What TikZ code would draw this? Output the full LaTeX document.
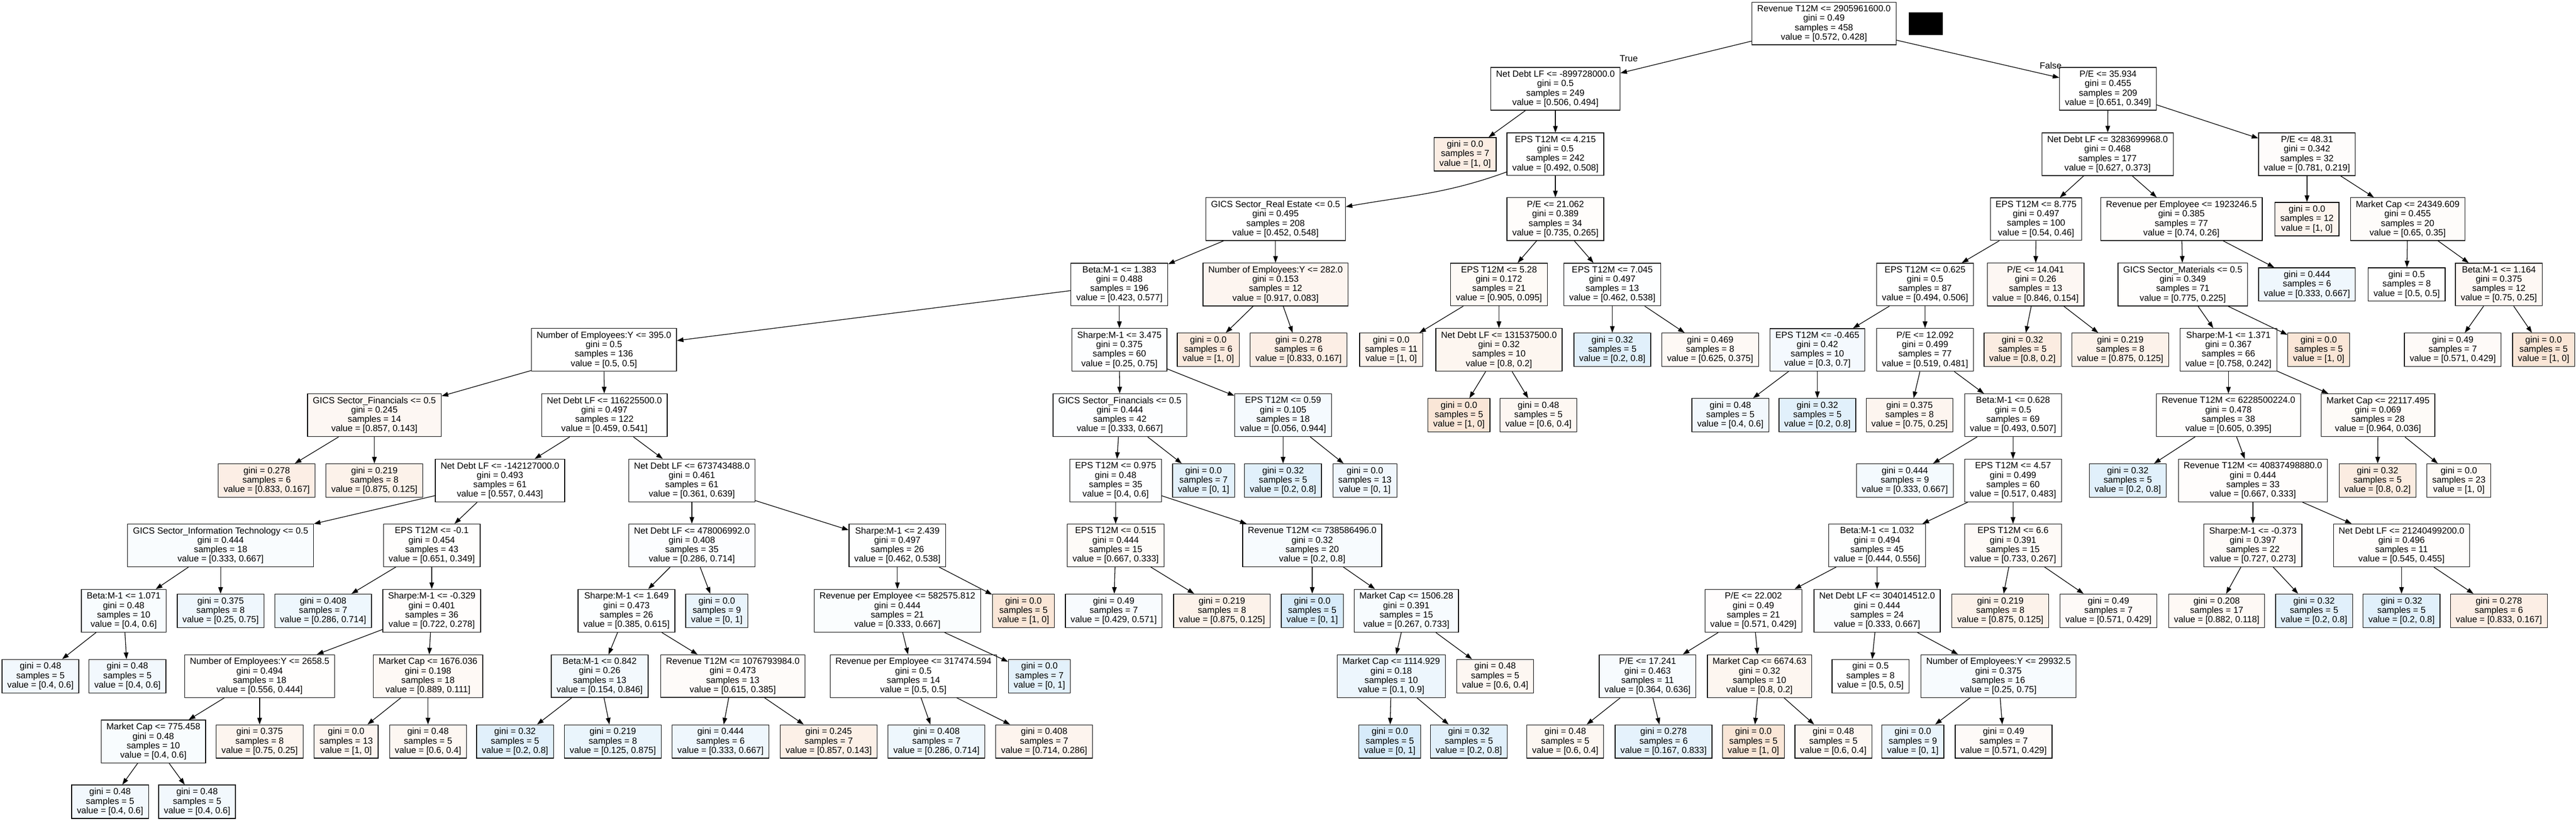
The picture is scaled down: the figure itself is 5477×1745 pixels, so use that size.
\documentclass[tikz,border=0pt]{standalone}
\usepackage{fontspec}
\setmainfont{Liberation Sans}
\usetikzlibrary{arrows.meta}
\definecolor{orng}{HTML}{E58139}
\definecolor{blu}{HTML}{399DE5}
\begin{document}
\begin{tikzpicture}[x=0.01cm, y=-0.01cm, line width=0.4pt,
    box/.style = {draw, fill=white, rectangle, align=center, inner xsep=3.2pt, inner ysep=1.9pt, font=\fontsize{5.4pt}{5.69pt}\selectfont},
    cls0/.style = {fill=orng!#1!white},
    cls1/.style = {fill=blu!#1!white},
    lbl/.style = {font=\fontsize{5.4pt}{5.69pt}\selectfont, inner sep=0pt},
    arr/.style = {-{Triangle[length=4pt, width=2.8pt]}}]
  \useasboundingbox (0,0) rectangle (5477,1745);
  \fill[white] (0,0) rectangle (5477,1745);

  % row 0 and 1
  \node[box] (0) at (3878,50) {Revenue T12M <= 2905961600.0\\gini = 0.49\\samples = 458\\value = [0.572, 0.428]};
  \fill (4058,26) rectangle (4131,75);
  \node[box] (1) at (3307,189) {Net Debt LF <= -899728000.0\\gini = 0.5\\samples = 249\\value = [0.506, 0.494]};
  \node[box] (74) at (4482,189) {P/E <= 35.934\\gini = 0.455\\samples = 209\\value = [0.651, 0.349]};
  \node[lbl] (true) at (3463,125) {True};
  \node[lbl] (false) at (4360,139) {False};

  % row 2
  \node[box, cls0=14.3] (2) at (3115,328) {gini = 0.0\\samples = 7\\value = [1, 0]};
  \node[box] (3) at (3307,328) {EPS T12M <= 4.215\\gini = 0.5\\samples = 242\\value = [0.492, 0.508]};
  \node[box] (75) at (4481,328) {Net Debt LF <= 3283699968.0\\gini = 0.468\\samples = 177\\value = [0.627, 0.373]};
  \node[box, cls0=2.2] (122) at (4905,328) {P/E <= 48.31\\gini = 0.342\\samples = 32\\value = [0.781, 0.219]};

  % row 3
  \node[box] (4) at (2712,466) {GICS Sector\_Real Estate <= 0.5\\gini = 0.495\\samples = 208\\value = [0.452, 0.548]};
  \node[box, cls0=1.9] (65) at (3307,466) {P/E <= 21.062\\gini = 0.389\\samples = 34\\value = [0.735, 0.265]};
  \node[box] (76) at (4329,466) {EPS T12M <= 8.775\\gini = 0.497\\samples = 100\\value = [0.54, 0.46]};
  \node[box, cls0=0.8] (105) at (4638,466) {Revenue per Employee <= 1923246.5\\gini = 0.385\\samples = 77\\value = [0.74, 0.26]};
  \node[box, cls0=8.3] (123) at (4905,466) {gini = 0.0\\samples = 12\\value = [1, 0]};
  \node[box, cls0=2.3] (124) at (5119,466) {Market Cap <= 24349.609\\gini = 0.455\\samples = 20\\value = [0.65, 0.35]};

  % row 4
  \node[box] (5) at (2380,605) {Beta:M-1 <= 1.383\\gini = 0.488\\samples = 196\\value = [0.423, 0.577]};
  \node[box, cls0=7.6] (62) at (2712,605) {Number of Employees:Y <= 282.0\\gini = 0.153\\samples = 12\\value = [0.917, 0.083]};
  \node[box, cls0=4.3] (66) at (3187,605) {EPS T12M <= 5.28\\gini = 0.172\\samples = 21\\value = [0.905, 0.095]};
  \node[box, cls1=1.1] (71) at (3428,605) {EPS T12M <= 7.045\\gini = 0.497\\samples = 13\\value = [0.462, 0.538]};
  \node[box] (77) at (4093,605) {EPS T12M <= 0.625\\gini = 0.5\\samples = 87\\value = [0.494, 0.506]};
  \node[box, cls0=6.3] (102) at (4328,605) {P/E <= 14.041\\gini = 0.26\\samples = 13\\value = [0.846, 0.154]};
  \node[box, cls0=1] (106) at (4641,605) {GICS Sector\_Materials <= 0.5\\gini = 0.349\\samples = 71\\value = [0.775, 0.225]};
  \node[box, cls1=8.3] (121) at (4905,605) {gini = 0.444\\samples = 6\\value = [0.333, 0.667]};
  \node[box] (125) at (5117,605) {gini = 0.5\\samples = 8\\value = [0.5, 0.5]};
  \node[box, cls0=5.6] (126) at (5313,605) {Beta:M-1 <= 1.164\\gini = 0.375\\samples = 12\\value = [0.75, 0.25]};

  % row 5
  \node[box] (6) at (1284,744) {Number of Employees:Y <= 395.0\\gini = 0.5\\samples = 136\\value = [0.5, 0.5]};
  \node[box, cls1=1.1] (45) at (2380,744) {Sharpe:M-1 <= 3.475\\gini = 0.375\\samples = 60\\value = [0.25, 0.75]};
  \node[box, cls0=16.7] (63) at (2569,744) {gini = 0.0\\samples = 6\\value = [1, 0]};
  \node[box, cls0=13.3] (64) at (2761,744) {gini = 0.278\\samples = 6\\value = [0.833, 0.167]};
  \node[box, cls0=9.1] (67) at (2958,744) {gini = 0.0\\samples = 11\\value = [1, 0]};
  \node[box, cls0=7.5] (68) at (3187,744) {Net Debt LF <= 131537500.0\\gini = 0.32\\samples = 10\\value = [0.8, 0.2]};
  \node[box, cls1=15] (72) at (3428,744) {gini = 0.32\\samples = 5\\value = [0.2, 0.8]};
  \node[box, cls0=5] (73) at (3636,744) {gini = 0.469\\samples = 8\\value = [0.625, 0.375]};
  \node[box, cls1=5.7] (78) at (3864,744) {EPS T12M <= -0.465\\gini = 0.42\\samples = 10\\value = [0.3, 0.7]};
  \node[box] (81) at (4093,744) {P/E <= 12.092\\gini = 0.499\\samples = 77\\value = [0.519, 0.481]};
  \node[box, cls0=15] (103) at (4300,744) {gini = 0.32\\samples = 5\\value = [0.8, 0.2]};
  \node[box, cls0=10.7] (104) at (4508,744) {gini = 0.219\\samples = 8\\value = [0.875, 0.125]};
  \node[box, cls0=1] (107) at (4738,744) {Sharpe:M-1 <= 1.371\\gini = 0.367\\samples = 66\\value = [0.758, 0.242]};
  \node[box, cls0=20] (120) at (4930,744) {gini = 0.0\\samples = 5\\value = [1, 0]};
  \node[box, cls0=3.6] (127) at (5215,744) {gini = 0.49\\samples = 7\\value = [0.571, 0.429]};
  \node[box, cls0=20] (128) at (5408,744) {gini = 0.0\\samples = 5\\value = [1, 0]};

  % row 6
  \node[box, cls0=6] (7) at (796,883) {GICS Sector\_Financials <= 0.5\\gini = 0.245\\samples = 14\\value = [0.857, 0.143]};
  \node[box] (10) at (1285,883) {Net Debt LF <= 116225500.0\\gini = 0.497\\samples = 122\\value = [0.459, 0.541]};
  \node[box, cls1=1.2] (46) at (2381,883) {GICS Sector\_Financials <= 0.5\\gini = 0.444\\samples = 42\\value = [0.333, 0.667]};
  \node[box, cls1=5.2] (59) at (2728,883) {EPS T12M <= 0.59\\gini = 0.105\\samples = 18\\value = [0.056, 0.944]};
  \node[box, cls0=20] (69) at (3102,883) {gini = 0.0\\samples = 5\\value = [1, 0]};
  \node[box, cls0=6.7] (70) at (3271,883) {gini = 0.48\\samples = 5\\value = [0.6, 0.4]};
  \node[box, cls1=6.7] (79) at (3679,883) {gini = 0.48\\samples = 5\\value = [0.4, 0.6]};
  \node[box, cls1=15] (80) at (3864,883) {gini = 0.32\\samples = 5\\value = [0.2, 0.8]};
  \node[box, cls0=8.3] (82) at (4060,883) {gini = 0.375\\samples = 8\\value = [0.75, 0.25]};
  \node[box] (83) at (4280,883) {Beta:M-1 <= 0.628\\gini = 0.5\\samples = 69\\value = [0.493, 0.507]};
  \node[box, cls0=0.9] (108) at (4738,883) {Revenue T12M <= 6228500224.0\\gini = 0.478\\samples = 38\\value = [0.605, 0.395]};
  \node[box, cls0=3.4] (117) at (5056,883) {Market Cap <= 22117.495\\gini = 0.069\\samples = 28\\value = [0.964, 0.036]};

  % row 7
  \node[box, cls0=13.3] (8) at (567,1022) {gini = 0.278\\samples = 6\\value = [0.833, 0.167]};
  \node[box, cls0=10.7] (9) at (796,1022) {gini = 0.219\\samples = 8\\value = [0.875, 0.125]};
  \node[box] (11) at (1063,1022) {Net Debt LF <= -142127000.0\\gini = 0.493\\samples = 61\\value = [0.557, 0.443]};
  \node[box, cls1=0.7] (28) at (1471,1022) {Net Debt LF <= 673743488.0\\gini = 0.461\\samples = 61\\value = [0.361, 0.639]};
  \node[box, cls1=1] (47) at (2372,1022) {EPS T12M <= 0.975\\gini = 0.48\\samples = 35\\value = [0.4, 0.6]};
  \node[box, cls1=14.3] (58) at (2559,1022) {gini = 0.0\\samples = 7\\value = [0, 1]};
  \node[box, cls1=15] (60) at (2728,1022) {gini = 0.32\\samples = 5\\value = [0.2, 0.8]};
  \node[box, cls1=7.7] (61) at (2902,1022) {gini = 0.0\\samples = 13\\value = [0, 1]};
  \node[box, cls1=5.6] (84) at (4050,1022) {gini = 0.444\\samples = 9\\value = [0.333, 0.667]};
  \node[box] (85) at (4280,1022) {EPS T12M <= 4.57\\gini = 0.499\\samples = 60\\value = [0.517, 0.483]};
  \node[box, cls1=15] (109) at (4524,1022) {gini = 0.32\\samples = 5\\value = [0.2, 0.8]};
  \node[box, cls0=1.5] (110) at (4790,1022) {Revenue T12M <= 40837498880.0\\gini = 0.444\\samples = 33\\value = [0.667, 0.333]};
  \node[box, cls0=15] (118) at (5055,1022) {gini = 0.32\\samples = 5\\value = [0.8, 0.2]};
  \node[box, cls0=4.3] (119) at (5228,1022) {gini = 0.0\\samples = 23\\value = [1, 0]};

  % row 8
  \node[box, cls1=2.8] (12) at (469,1160) {GICS Sector\_Information Technology <= 0.5\\gini = 0.444\\samples = 18\\value = [0.333, 0.667]};
  \node[box, cls0=1.1] (17) at (918,1160) {EPS T12M <= -0.1\\gini = 0.454\\samples = 43\\value = [0.651, 0.349]};
  \node[box, cls1=1.7] (29) at (1471,1160) {Net Debt LF <= 478006992.0\\gini = 0.408\\samples = 35\\value = [0.286, 0.714]};
  \node[box, cls1=0.5] (38) at (1908,1160) {Sharpe:M-1 <= 2.439\\gini = 0.497\\samples = 26\\value = [0.462, 0.538]};
  \node[box, cls0=3.3] (48) at (2372,1160) {EPS T12M <= 0.515\\gini = 0.444\\samples = 15\\value = [0.667, 0.333]};
  \node[box, cls1=3.8] (51) at (2790,1160) {Revenue T12M <= 738586496.0\\gini = 0.32\\samples = 20\\value = [0.2, 0.8]};
  \node[box, cls1=0.4] (86) at (3991,1160) {Beta:M-1 <= 1.032\\gini = 0.494\\samples = 45\\value = [0.444, 0.556]};
  \node[box, cls0=4.2] (99) at (4280,1160) {EPS T12M <= 6.6\\gini = 0.391\\samples = 15\\value = [0.733, 0.267]};
  \node[box, cls0=2.8] (111) at (4790,1160) {Sharpe:M-1 <= -0.373\\gini = 0.397\\samples = 22\\value = [0.727, 0.273]};
  \node[box, cls0=1.5] (114) at (5106,1160) {Net Debt LF <= 21240499200.0\\gini = 0.496\\samples = 11\\value = [0.545, 0.455]};

  % row 9
  \node[box, cls1=3.3] (13) at (263,1299) {Beta:M-1 <= 1.071\\gini = 0.48\\samples = 10\\value = [0.4, 0.6]};
  \node[box, cls1=8.3] (16) at (469,1299) {gini = 0.375\\samples = 8\\value = [0.25, 0.75]};
  \node[box, cls1=8.6] (18) at (687,1299) {gini = 0.408\\samples = 7\\value = [0.286, 0.714]};
  \node[box, cls0=1.7] (19) at (918,1299) {Sharpe:M-1 <= -0.329\\gini = 0.401\\samples = 36\\value = [0.722, 0.278]};
  \node[box, cls1=1.4] (30) at (1332,1299) {Sharpe:M-1 <= 1.649\\gini = 0.473\\samples = 26\\value = [0.385, 0.615]};
  \node[box, cls1=11.1] (37) at (1524,1299) {gini = 0.0\\samples = 9\\value = [0, 1]};
  \node[box, cls1=2.4] (39) at (1908,1299) {Revenue per Employee <= 582575.812\\gini = 0.444\\samples = 21\\value = [0.333, 0.667]};
  \node[box, cls0=20] (44) at (2176,1299) {gini = 0.0\\samples = 5\\value = [1, 0]};
  \node[box, cls1=3.6] (49) at (2368,1299) {gini = 0.49\\samples = 7\\value = [0.429, 0.571]};
  \node[box, cls0=10.7] (50) at (2598,1299) {gini = 0.219\\samples = 8\\value = [0.875, 0.125]};
  \node[box, cls1=20] (52) at (2790,1299) {gini = 0.0\\samples = 5\\value = [0, 1]};
  \node[box, cls1=4.2] (53) at (2990,1299) {Market Cap <= 1506.28\\gini = 0.391\\samples = 15\\value = [0.267, 0.733]};
  \node[box, cls0=1.2] (87) at (3728,1299) {P/E <= 22.002\\gini = 0.49\\samples = 21\\value = [0.571, 0.429]};
  \node[box, cls1=2.1] (94) at (3991,1299) {Net Debt LF <= 304014512.0\\gini = 0.444\\samples = 24\\value = [0.333, 0.667]};
  \node[box, cls0=10.7] (100) at (4253,1299) {gini = 0.219\\samples = 8\\value = [0.875, 0.125]};
  \node[box, cls0=3.6] (101) at (4483,1299) {gini = 0.49\\samples = 7\\value = [0.571, 0.429]};
  \node[box, cls0=5.1] (112) at (4713,1299) {gini = 0.208\\samples = 17\\value = [0.882, 0.118]};
  \node[box, cls1=15] (113) at (4920,1299) {gini = 0.32\\samples = 5\\value = [0.2, 0.8]};
  \node[box, cls1=15] (115) at (5106,1299) {gini = 0.32\\samples = 5\\value = [0.2, 0.8]};
  \node[box, cls0=13.3] (116) at (5313,1299) {gini = 0.278\\samples = 6\\value = [0.833, 0.167]};

  % row 10
  \node[box, cls1=6.7] (14) at (86,1438) {gini = 0.48\\samples = 5\\value = [0.4, 0.6]};
  \node[box, cls1=6.7] (15) at (271,1438) {gini = 0.48\\samples = 5\\value = [0.4, 0.6]};
  \node[box, cls0=1.1] (20) at (552,1438) {Number of Employees:Y <= 2658.5\\gini = 0.494\\samples = 18\\value = [0.556, 0.444]};
  \node[box, cls0=4.9] (25) at (910,1438) {Market Cap <= 1676.036\\gini = 0.198\\samples = 18\\value = [0.889, 0.111]};
  \node[box, cls1=6.3] (31) at (1275,1438) {Beta:M-1 <= 0.842\\gini = 0.26\\samples = 13\\value = [0.154, 0.846]};
  \node[box, cls0=2.9] (34) at (1558,1438) {Revenue T12M <= 1076793984.0\\gini = 0.473\\samples = 13\\value = [0.615, 0.385]};
  \node[box] (40) at (1942,1438) {Revenue per Employee <= 317474.594\\gini = 0.5\\samples = 14\\value = [0.5, 0.5]};
  \node[box, cls1=14.3] (43) at (2210,1438) {gini = 0.0\\samples = 7\\value = [0, 1]};
  \node[box, cls1=8.9] (54) at (2958,1438) {Market Cap <= 1114.929\\gini = 0.18\\samples = 10\\value = [0.1, 0.9]};
  \node[box, cls0=6.7] (57) at (3179,1438) {gini = 0.48\\samples = 5\\value = [0.6, 0.4]};
  \node[box, cls1=3.9] (88) at (3503,1438) {P/E <= 17.241\\gini = 0.463\\samples = 11\\value = [0.364, 0.636]};
  \node[box, cls0=7.5] (91) at (3741,1438) {Market Cap <= 6674.63\\gini = 0.32\\samples = 10\\value = [0.8, 0.2]};
  \node[box] (95) at (3977,1438) {gini = 0.5\\samples = 8\\value = [0.5, 0.5]};
  \node[box, cls1=4.2] (96) at (4249,1438) {Number of Employees:Y <= 29932.5\\gini = 0.375\\samples = 16\\value = [0.25, 0.75]};

  % row 11
  \node[box, cls1=3.3] (21) at (326,1577) {Market Cap <= 775.458\\gini = 0.48\\samples = 10\\value = [0.4, 0.6]};
  \node[box, cls0=8.3] (24) at (552,1577) {gini = 0.375\\samples = 8\\value = [0.75, 0.25]};
  \node[box, cls0=7.7] (26) at (736,1577) {gini = 0.0\\samples = 13\\value = [1, 0]};
  \node[box, cls0=6.7] (27) at (910,1577) {gini = 0.48\\samples = 5\\value = [0.6, 0.4]};
  \node[box, cls1=15] (32) at (1095,1577) {gini = 0.32\\samples = 5\\value = [0.2, 0.8]};
  \node[box, cls1=10.7] (33) at (1303,1577) {gini = 0.219\\samples = 8\\value = [0.125, 0.875]};
  \node[box, cls1=8.3] (35) at (1532,1577) {gini = 0.444\\samples = 6\\value = [0.333, 0.667]};
  \node[box, cls0=11.9] (36) at (1762,1577) {gini = 0.245\\samples = 7\\value = [0.857, 0.143]};
  \node[box, cls1=8.6] (41) at (1991,1577) {gini = 0.408\\samples = 7\\value = [0.286, 0.714]};
  \node[box, cls0=8.6] (42) at (2220,1577) {gini = 0.408\\samples = 7\\value = [0.714, 0.286]};
  \node[box, cls1=20] (55) at (2955,1577) {gini = 0.0\\samples = 5\\value = [0, 1]};
  \node[box, cls1=15] (56) at (3123,1577) {gini = 0.32\\samples = 5\\value = [0.2, 0.8]};
  \node[box, cls0=6.7] (89) at (3328,1577) {gini = 0.48\\samples = 5\\value = [0.6, 0.4]};
  \node[box, cls1=13.3] (90) at (3537,1577) {gini = 0.278\\samples = 6\\value = [0.167, 0.833]};
  \node[box, cls0=20] (92) at (3728,1577) {gini = 0.0\\samples = 5\\value = [1, 0]};
  \node[box, cls0=6.7] (93) at (3898,1577) {gini = 0.48\\samples = 5\\value = [0.6, 0.4]};
  \node[box, cls1=11.1] (97) at (4067,1577) {gini = 0.0\\samples = 9\\value = [0, 1]};
  \node[box, cls0=3.6] (98) at (4260,1577) {gini = 0.49\\samples = 7\\value = [0.571, 0.429]};

  % row 12
  \node[box, cls1=6.7] (22) at (234,1705) {gini = 0.48\\samples = 5\\value = [0.4, 0.6]};
  \node[box, cls1=6.7] (23) at (419,1705) {gini = 0.48\\samples = 5\\value = [0.4, 0.6]};

  % edges
  \draw[arr] (0) -- (1); \draw[arr] (0) -- (74);
  \draw[arr] (1) -- (2); \draw[arr] (1) -- (3);
  \draw[arr] (3) to[out=200, in=10] (4); \draw[arr] (3) -- (65);
  \draw[arr] (4) -- (5); \draw[arr] (4) -- (62);
  \draw[arr] (5) -- (6); \draw[arr] (5) -- (45);
  \draw[arr] (6) -- (7); \draw[arr] (6) -- (10);
  \draw[arr] (7) -- (8); \draw[arr] (7) -- (9);
  \draw[arr] (10) -- (11); \draw[arr] (10) -- (28);
  \draw[arr] (11) -- (12); \draw[arr] (11) -- (17);
  \draw[arr] (12) -- (13); \draw[arr] (12) -- (16);
  \draw[arr] (13) -- (14); \draw[arr] (13) -- (15);
  \draw[arr] (17) -- (18); \draw[arr] (17) -- (19);
  \draw[arr] (19) -- (20); \draw[arr] (19) -- (25);
  \draw[arr] (20) -- (21); \draw[arr] (20) -- (24);
  \draw[arr] (21) -- (22); \draw[arr] (21) -- (23);
  \draw[arr] (25) -- (26); \draw[arr] (25) -- (27);
  \draw[arr] (28) -- (29); \draw[arr] (28) -- (38);
  \draw[arr] (29) -- (30); \draw[arr] (29) -- (37);
  \draw[arr] (30) -- (31); \draw[arr] (30) -- (34);
  \draw[arr] (31) -- (32); \draw[arr] (31) -- (33);
  \draw[arr] (34) -- (35); \draw[arr] (34) -- (36);
  \draw[arr] (38) -- (39); \draw[arr] (38) -- (44);
  \draw[arr] (39) -- (40); \draw[arr] (39) -- (43);
  \draw[arr] (40) -- (41); \draw[arr] (40) -- (42);
  \draw[arr] (45) -- (46); \draw[arr] (45) -- (59);
  \draw[arr] (46) -- (47); \draw[arr] (46) -- (58);
  \draw[arr] (47) -- (48); \draw[arr] (47) -- (51);
  \draw[arr] (48) -- (49); \draw[arr] (48) -- (50);
  \draw[arr] (51) -- (52); \draw[arr] (51) -- (53);
  \draw[arr] (53) -- (54); \draw[arr] (53) -- (57);
  \draw[arr] (54) -- (55); \draw[arr] (54) -- (56);
  \draw[arr] (59) -- (60); \draw[arr] (59) -- (61);
  \draw[arr] (62) -- (63); \draw[arr] (62) -- (64);
  \draw[arr] (65) -- (66); \draw[arr] (65) -- (71);
  \draw[arr] (66) -- (67); \draw[arr] (66) -- (68);
  \draw[arr] (68) -- (69); \draw[arr] (68) -- (70);
  \draw[arr] (71) -- (72); \draw[arr] (71) -- (73);
  \draw[arr] (74) -- (75); \draw[arr] (74) -- (122);
  \draw[arr] (75) -- (76); \draw[arr] (75) -- (105);
  \draw[arr] (76) -- (77); \draw[arr] (76) -- (102);
  \draw[arr] (77) -- (78); \draw[arr] (77) -- (81);
  \draw[arr] (78) -- (79); \draw[arr] (78) -- (80);
  \draw[arr] (81) -- (82); \draw[arr] (81) -- (83);
  \draw[arr] (83) -- (84); \draw[arr] (83) -- (85);
  \draw[arr] (85) -- (86); \draw[arr] (85) -- (99);
  \draw[arr] (86) -- (87); \draw[arr] (86) -- (94);
  \draw[arr] (87) -- (88); \draw[arr] (87) -- (91);
  \draw[arr] (88) -- (89); \draw[arr] (88) -- (90);
  \draw[arr] (91) -- (92); \draw[arr] (91) -- (93);
  \draw[arr] (94) -- (95); \draw[arr] (94) -- (96);
  \draw[arr] (96) -- (97); \draw[arr] (96) -- (98);
  \draw[arr] (99) -- (100); \draw[arr] (99) -- (101);
  \draw[arr] (102) -- (103); \draw[arr] (102) -- (104);
  \draw[arr] (105) -- (106); \draw[arr] (105) -- (121);
  \draw[arr] (106) -- (107); \draw[arr] (106) -- (120);
  \draw[arr] (107) -- (108); \draw[arr] (107) -- (117);
  \draw[arr] (108) -- (109); \draw[arr] (108) -- (110);
  \draw[arr] (110) -- (111); \draw[arr] (110) -- (114);
  \draw[arr] (111) -- (112); \draw[arr] (111) -- (113);
  \draw[arr] (114) -- (115); \draw[arr] (114) -- (116);
  \draw[arr] (117) -- (118); \draw[arr] (117) -- (119);
  \draw[arr] (122) -- (123); \draw[arr] (122) -- (124);
  \draw[arr] (124) -- (125); \draw[arr] (124) -- (126);
  \draw[arr] (126) -- (127); \draw[arr] (126) -- (128);
\end{tikzpicture}
\end{document}
